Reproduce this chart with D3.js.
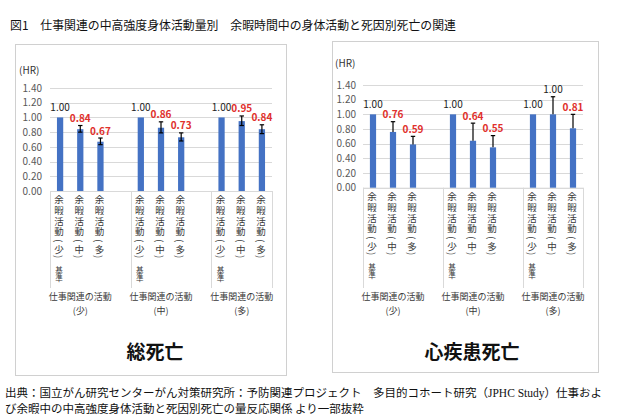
<!DOCTYPE html>
<html><head><meta charset="utf-8">
<script src="https://cdn.jsdelivr.net/npm/d3@7"></script>
<style>
html,body{margin:0;padding:0;background:#fff;}
svg{display:block;}
text{font-family:"Noto Sans CJK JP","Noto Sans",sans-serif;}
text.vert{writing-mode:vertical-rl;}
</style></head>
<body>
<svg id="chart" width="630" height="420"></svg>
<script>
// ---- data ----
const figureTitle = "図1　仕事関連の中高強度身体活動量別　余暇時間中の身体活動と死因別死亡の関連";
const sourceLine1a = "出典：国立がん研究センターがん対策研究所：予防関連プロジェクト　多目的コホート研究（";
const sourceLine1b = "JPHC Study";
const sourceLine1c = "）仕事およ";
const sourceLine2 = "び余暇中の中高強度身体活動と死因別死亡の量反応関係 より一部抜粋";
const workGroups = ["仕事関連の活動", "仕事関連の活動", "仕事関連の活動"];
const workLevels = ["(少)", "(中)", "(多)"];
const leisureCats = ["余暇活動(少)", "余暇活動(中)", "余暇活動(多)"];
const refNotes = ["基準", "", ""];
const yTicks = [0, 0.2, 0.4, 0.6, 0.8, 1.0, 1.2, 1.4];
const yUnit = "(HR)";
const panelTitles = ["総死亡", "心疾患死亡"];
// total mortality (総死亡)
const totalHR = [1.00, 0.84, 0.67, 1.00, 0.86, 0.73, 1.00, 0.95, 0.84];
const totalLo = [null, 0.80, 0.63, null, 0.79, 0.68, null, 0.89, 0.78];
const totalHi = [null, 0.89, 0.72, null, 0.94, 0.79, null, 1.02, 0.90];
// heart disease mortality (心疾患死亡)
const heartHR = [1.00, 0.76, 0.59, 1.00, 0.64, 0.55, 1.00, 1.00, 0.81];
const heartHi = [null, 0.90, 0.70, null, 0.88, 0.71, null, 1.24, 1.00];

// ---- drawing ----
const svg = d3.select("#chart");
const BLUE = "#4472C4", RED = "#E0302C", GRID = "#D9D9D9", AXT = "#595959";
const charTops = [0, 10.7, 21.4, 32.1, 44.3, 49.5, 60];
const noteTops = [71, 79];

svg.append("text").attr("x", 10).attr("y", 30).attr("font-size", 12).attr("fill", "#111")
  .attr("textLength", 446).attr("lengthAdjust", "spacingAndGlyphs").text(figureTitle);

const panels = [
  {hr: totalHR, lo: totalLo, hi: totalHi, both: true, title: panelTitles[0],
   box: [15, 44, 271, 331], px: [50, 272], py: [191, 88], hrPos: [19, 74], tickX: 42,
   catTop: 195, sepBottom: 288, grpY: 300, titleX: 155, titleY: 359},
  {hr: heartHR, lo: null, hi: heartHi, both: false, title: panelTitles[1],
   box: [332, 41, 266, 331], px: [363, 583], py: [187.7, 85], hrPos: [335, 67], tickX: 356,
   catTop: 192, sepBottom: 288, grpY: 300, titleX: 472, titleY: 359}
];

panels.forEach(p => {
  const g = svg.append("g");
  g.append("rect").attr("x", p.box[0] + 0.5).attr("y", p.box[1] + 0.5)
    .attr("width", p.box[2]).attr("height", p.box[3])
    .attr("fill", "#fff").attr("stroke", "#D0D0D0").attr("stroke-width", 1);

  // slot domain: 3 bars per group + blank separators between groups
  const slots = [];
  const barSlots = [];
  workGroups.forEach((wg, gi) => {
    leisureCats.forEach((lc, li) => { const k = `g${gi}-${li}`; slots.push(k); barSlots.push(k); });
    if (gi < workGroups.length - 1) slots.push(`g${gi}-gap`);
  });
  const x = d3.scaleBand().domain(slots).range(p.px).paddingInner(0).paddingOuter(0);
  const y = d3.scaleLinear().domain([0, 1.4]).range(p.py);
  const bw = x.bandwidth() * 0.31;

  // gridlines
  g.append("g").attr("transform", `translate(${p.px[0]},0)`)
    .call(d3.axisLeft(y).tickValues(yTicks).tickSize(-(p.px[1] - p.px[0])).tickFormat(""))
    .call(s => s.select(".domain").remove())
    .call(s => s.selectAll("line").attr("stroke", GRID).attr("shape-rendering", "crispEdges"));
  // tick labels
  g.append("g").attr("transform", `translate(${p.tickX},0)`)
    .call(d3.axisLeft(y).tickValues(yTicks).tickSize(0).tickPadding(0).tickFormat(d3.format(".2f")))
    .call(s => s.select(".domain").remove())
    .call(s => s.selectAll("text").attr("fill", AXT).attr("font-size", 10)
      .attr("font-family", "'Open Sans','Noto Sans',sans-serif"));
  g.append("text").attr("x", p.hrPos[0]).attr("y", p.hrPos[1]).attr("font-size", 10)
    .attr("fill", "#333").attr("font-family", "'Open Sans','Noto Sans',sans-serif").text(yUnit);

  // category axis baseline
  g.append("line").attr("x1", p.px[0]).attr("x2", p.px[1]).attr("y1", y(0) + 0.5).attr("y2", y(0) + 0.5)
    .attr("stroke", GRID);
  // group separators
  const seps = [p.px[0], x("g1-0"), x("g2-0"), p.px[1]];
  seps.forEach(sx => g.append("line").attr("x1", Math.round(sx) + 0.5).attr("x2", Math.round(sx) + 0.5)
    .attr("y1", y(0)).attr("y2", p.sepBottom).attr("stroke", GRID));

  const data = barSlots.map((k, i) => ({k, i, v: p.hr[i], lo: p.lo ? p.lo[i] : null, hi: p.hi[i]}));

  // bars
  g.selectAll("rect.bar").data(data).join("rect").attr("class", "bar")
    .attr("x", d => x(d.k) + x.bandwidth() / 2 - bw / 2).attr("width", bw)
    .attr("y", d => y(d.v)).attr("height", d => y(0) - y(d.v)).attr("fill", BLUE);

  // error bars
  data.filter(d => d.hi != null).forEach(d => {
    const cx = x(d.k) + x.bandwidth() / 2;
    const top = y(d.hi), bot = p.both ? y(d.lo) : y(d.v);
    g.append("line").attr("x1", cx).attr("x2", cx).attr("y1", top).attr("y2", bot).attr("stroke", "#000").attr("stroke-width", 1.2);
    g.append("line").attr("x1", cx - 2.2).attr("x2", cx + 2.2).attr("y1", top).attr("y2", top).attr("stroke", "#000").attr("stroke-width", 1.2);
    if (p.both) g.append("line").attr("x1", cx - 2.2).attr("x2", cx + 2.2).attr("y1", bot).attr("y2", bot).attr("stroke", "#000").attr("stroke-width", 1.2);
  });

  // data labels
  data.forEach(d => {
    const cx = x(d.k) + x.bandwidth() / 2;
    let cy = y(d.v) - 11;
    if (d.hi != null) cy = Math.min(cy, y(d.hi) - 8);
    const sig = d.v !== 1;
    g.append("text").attr("x", cx).attr("y", cy).attr("text-anchor", "middle").attr("dominant-baseline", "central")
      .attr("font-size", 10).attr("font-weight", sig ? "bold" : "normal")
      .attr("font-family", "'Open Sans','Noto Sans',sans-serif")
      .attr("fill", sig ? RED : "#222").text(d.v.toFixed(2));
  });

  // vertical category labels, stacked character by character
  data.forEach(d => {
    const cx = x(d.k) + x.bandwidth() / 2 - 1;
    const li = d.i % 3;
    Array.from(leisureCats[li]).forEach((ch, ci) => {
      g.append("text").attr("class", "vert").attr("x", cx).attr("y", p.catTop + charTops[ci])
        .attr("font-size", 9.5).attr("fill", "#3a3a3a").text(ch);
    });
    Array.from(refNotes[li]).forEach((ch, ci) => {
      g.append("text").attr("class", "vert").attr("x", cx).attr("y", p.catTop + noteTops[ci])
        .attr("font-size", 7.5).attr("fill", "#3a3a3a").text(ch);
    });
  });

  // group labels
  workGroups.forEach((wg, gi) => {
    const cx = x(`g${gi}-1`) + x.bandwidth() / 2;
    g.append("text").attr("x", cx).attr("y", p.grpY).attr("text-anchor", "middle")
      .attr("font-size", 9).attr("fill", "#3a3a3a").text(wg);
    g.append("text").attr("x", cx).attr("y", p.grpY + 13.5).attr("text-anchor", "middle")
      .attr("font-size", 9).attr("fill", "#3a3a3a").text(workLevels[gi]);
  });

  g.append("text").attr("x", p.titleX).attr("y", p.titleY).attr("text-anchor", "middle")
    .attr("font-size", 19).attr("font-weight", "bold").attr("fill", "#111").text(p.title);
});

// source
const src = svg.append("text").attr("x", 5).attr("y", 397).attr("font-size", 11.5).attr("fill", "#111");
src.append("tspan").text(sourceLine1a);
src.append("tspan").attr("font-family", "'Liberation Serif','DejaVu Serif',serif").text(sourceLine1b);
src.append("tspan").text(sourceLine1c);
svg.append("text").attr("x", 5).attr("y", 413).attr("font-size", 11.5).attr("fill", "#111").text(sourceLine2);
</script>
</body></html>
